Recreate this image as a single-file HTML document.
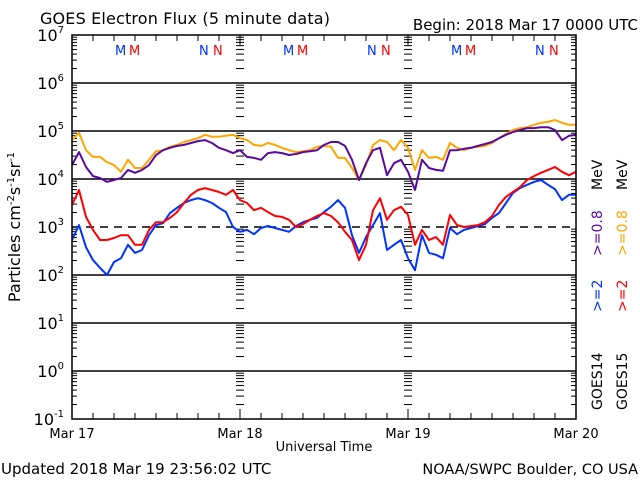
<!DOCTYPE html>
<html><head><meta charset="utf-8"><style>
body{margin:0;background:#fff;}
svg text{font-family:"DejaVu Sans","Liberation Sans",sans-serif;}
</style></head><body>
<svg id="chart" width="640" height="480" xmlns="http://www.w3.org/2000/svg">
<rect width="640" height="480" fill="#fff"/>
<text x="40" y="24" font-size="16" textLength="290">GOES Electron Flux (5 minute data)</text>
<text x="638" y="30" font-size="15" text-anchor="end">Begin: 2018 Mar 17 0000 UTC</text>
<text transform="translate(20,227) rotate(-90)" font-size="16" text-anchor="middle">Particles cm<tspan dy="-6" font-size="10">-2</tspan><tspan dy="6">s</tspan><tspan dy="-6" font-size="10">-1</tspan><tspan dy="6">sr</tspan><tspan dy="-6" font-size="10">-1</tspan></text>
<text x="324" y="451" font-size="13" text-anchor="middle">Universal Time</text>
<text x="1" y="474" font-size="15">Updated 2018 Mar 19 23:56:02 UTC</text>
<text x="638" y="474" font-size="14.5" text-anchor="end">NOAA/SWPC Boulder, CO USA</text>
<g font-size="14">
<text transform="translate(602,410) rotate(-90)">GOES14</text>
<text transform="translate(602,312) rotate(-90)" fill="#0033ff">&gt;=2</text>
<text transform="translate(602,256) rotate(-90)" fill="#5a0aa0">&gt;=0.8</text>
<text transform="translate(602,190) rotate(-90)">MeV</text>
</g>
<g font-size="14">
<text transform="translate(627,410) rotate(-90)">GOES15</text>
<text transform="translate(627,312) rotate(-90)" fill="#ff0000">&gt;=2</text>
<text transform="translate(627,256) rotate(-90)" fill="#ffa500">&gt;=0.8</text>
<text transform="translate(627,190) rotate(-90)">MeV</text>
</g>
<g id="axes"></g>
<g id="series"></g>
<rect x="72" y="35" width="504" height="384" fill="none" stroke="#000" stroke-width="1.5"/>
</svg>
<script>
const hours = Array.from({length:73},(_, i)=>i);
const xLabels = ["Mar 17","Mar 18","Mar 19","Mar 20"];
const yExps = [7,6,5,4,3,2,1,0,-1];
const markers = [["M",0,7],["M",1,9],["N",0,19],["N",1,21],["M",0,31],["M",1,33],["N",0,43],["N",1,45],["M",0,55],["M",1,57],["N",0,67],["N",1,69]];
const g15e08 = [4.81,4.96,4.60,4.46,4.46,4.35,4.29,4.15,4.40,4.23,4.23,4.40,4.58,4.60,4.67,4.71,4.77,4.81,4.85,4.92,4.88,4.88,4.90,4.92,4.85,
4.81,4.71,4.69,4.75,4.71,4.65,4.60,4.56,4.58,4.60,4.67,4.69,4.67,4.44,4.44,4.23,3.98,4.29,4.71,4.81,4.77,4.60,4.81,4.65,
4.19,4.60,4.44,4.46,4.40,4.75,4.65,4.60,4.65,4.67,4.69,4.75,4.85,4.94,5.02,5.06,5.08,5.13,5.17,5.19,5.23,5.17,5.13,5.13];
const g14e08 = [4.29,4.56,4.25,4.06,4.02,3.94,3.98,4.02,4.19,4.13,4.19,4.29,4.50,4.60,4.65,4.69,4.71,4.75,4.79,4.81,4.75,4.65,4.60,4.54,4.60,
4.46,4.44,4.40,4.54,4.56,4.54,4.50,4.52,4.56,4.58,4.60,4.71,4.77,4.77,4.69,4.40,3.98,4.33,4.60,4.65,4.08,4.33,4.40,4.15,
3.77,4.40,4.23,4.19,4.17,4.60,4.60,4.63,4.65,4.69,4.73,4.77,4.85,4.92,4.98,5.02,5.06,5.06,5.08,5.08,5.02,4.81,4.90,4.92];
const g15e2 = [3.46,3.77,3.21,2.94,2.73,2.73,2.77,2.83,2.83,2.63,2.63,2.94,3.10,3.10,3.19,3.31,3.50,3.67,3.77,3.81,3.77,3.73,3.67,3.77,3.56,
3.50,3.35,3.40,3.31,3.23,3.21,3.15,3.00,3.06,3.15,3.23,3.29,3.23,3.10,2.90,2.73,2.31,2.63,3.35,3.60,3.15,3.35,3.42,3.25,
2.63,2.94,2.73,2.79,2.63,3.25,3.04,3.00,3.02,3.04,3.10,3.23,3.46,3.63,3.73,3.83,3.98,4.06,4.13,4.19,4.25,4.15,4.08,4.15];
const g14e2 = [2.73,3.04,2.58,2.31,2.15,2.00,2.27,2.35,2.63,2.46,2.52,2.83,3.04,3.08,3.29,3.40,3.50,3.56,3.60,3.56,3.50,3.40,3.31,3.00,2.90,
2.94,2.85,2.98,3.02,2.98,2.94,2.90,3.02,3.10,3.15,3.19,3.31,3.42,3.56,3.40,2.83,2.46,2.79,3.04,3.29,2.52,2.63,2.73,2.35,
2.10,2.83,2.46,2.42,2.35,2.98,2.85,2.94,2.98,3.02,3.06,3.19,3.29,3.50,3.71,3.81,3.88,3.94,3.98,3.88,3.79,3.56,3.67,3.67];

const NS="http://www.w3.org/2000/svg";
const L=72,R=576,T=35,B=419;
const xs = h => L + (R-L)*h/72;
const ys = e => B - (B-T)*(e+1)/8;
function mk(tag, attrs, parent){const el=document.createElementNS(NS,tag);for(const k in attrs)el.setAttribute(k,attrs[k]);parent.appendChild(el);return el;}
const axes=document.getElementById('axes'), ser=document.getElementById('series');

yExps.forEach(e=>{
  if(e===7||e===-1) return;
  const gl=mk('line',{x1:L,x2:R,y1:ys(e),y2:ys(e),stroke:'#000','stroke-width':1.5},axes);
  
  
  if(e===3) gl.setAttribute('stroke-dasharray','8,6');
});
yExps.forEach(e=>{
  const t=mk('text',{x:L-8,y:ys(e)+6,'font-size':16,'text-anchor':'end'},axes);
  
  
  t.innerHTML='10<tspan dy="-8" font-size="10">'+e+'</tspan>';
});
for(let e=-1;e<7;e++){
  for(let m=2;m<10;m++){
    const y=ys(e+Math.log10(m));
    mk('line',{x1:L,x2:L+5,y1:y,y2:y,stroke:'#000'},axes);
    mk('line',{x1:R-5,x2:R,y1:y,y2:y,stroke:'#000'},axes);
    [24,48].forEach(h=>{
      const x=xs(h);
      mk('line',{x1:x-4,x2:x+4,y1:y,y2:y,stroke:'#000'},axes);
    });
  }
}
for(let h=0;h<=72;h+=3){
  const x=xs(h), len=h%24===0?10:6;
  mk('line',{x1:x,x2:x,y1:B,y2:B-len,stroke:'#000'},axes);
  mk('line',{x1:x,x2:x,y1:T,y2:T+len,stroke:'#000'},axes);
}
xLabels.forEach((lab,i)=>{
  const t=mk('text',{x:xs(i*24),y:438,'font-size':13,'text-anchor':'middle'},axes);
  
  
  t.textContent=lab;
});
markers.forEach(mm=>{
  const t=mk('text',{x:xs(mm[2])-6,y:55,'font-size':13,fill:mm[1]?'#ff0000':'#0033ff'},axes);
  
  
  t.textContent=mm[0];
});
function line(vals,color,name){
  let d='';
  vals.forEach((v,i)=>{d+=(i?'L':'M')+xs(hours[i]).toFixed(1)+','+ys(v).toFixed(1);});
  const p=mk('path',{d:d,fill:'none',stroke:color,'stroke-width':2,'stroke-linejoin':'round'},ser);
  
  
}
line(g15e08,'#ffa500','goes15-0.8mev-line');
line(g14e08,'#5a0aa0','goes14-0.8mev-line');
line(g14e2,'#0033ff','goes14-2mev-line');
line(g15e2,'#ff0000','goes15-2mev-line');
</script>
</body></html>
